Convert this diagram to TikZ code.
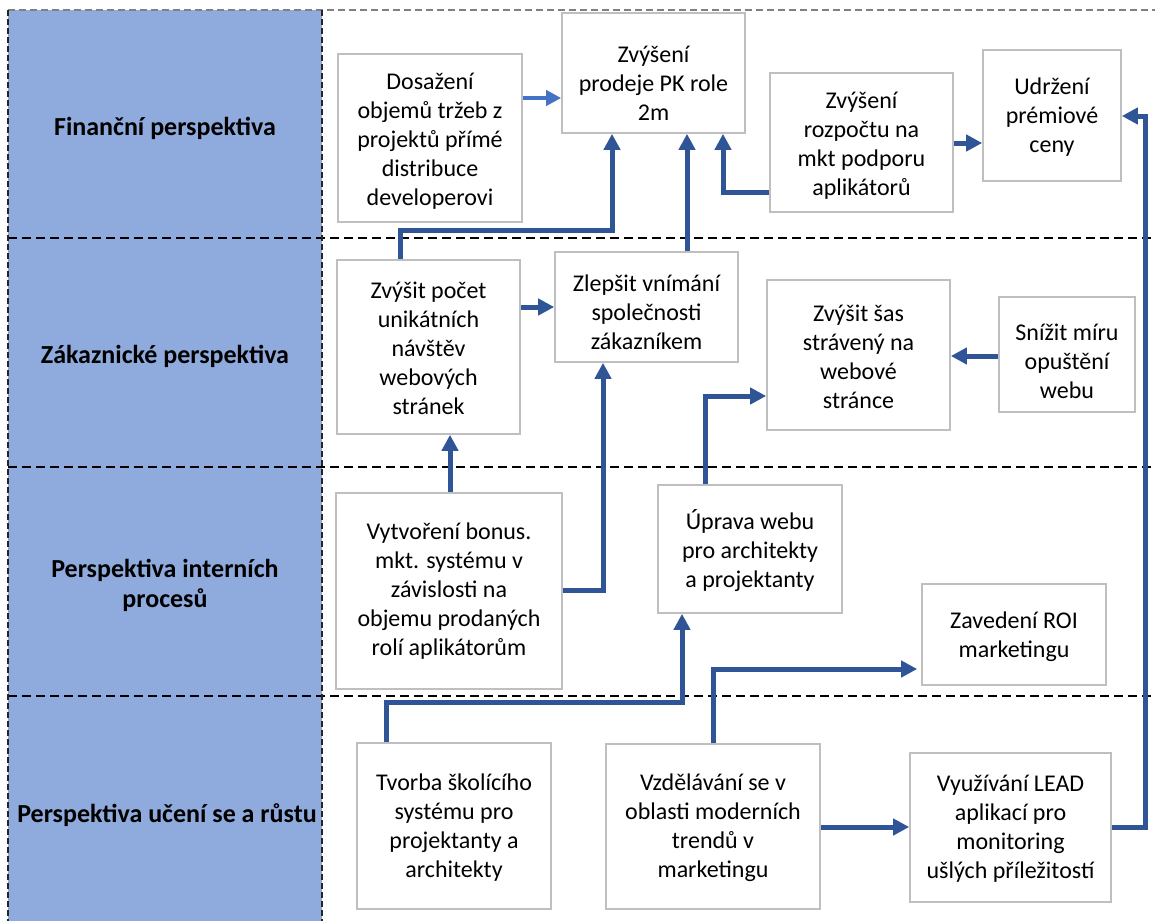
\documentclass[tikz,border=0pt]{standalone}
\usepackage{fontspec}
\setmainfont{Carlito}
\usetikzlibrary{arrows.meta,calc}
\definecolor{colblue}{RGB}{143,170,220}
\definecolor{arrblue}{RGB}{47,85,151}
\definecolor{arrlight}{RGB}{68,114,196}
\definecolor{boxgray}{RGB}{191,191,191}
\tikzset{
  bx/.style={draw=boxgray, line width=1.6pt, fill=white, rectangle, inner sep=0pt},
  txt/.style={align=center, inner sep=0pt, font=\fontsize{24}{29}\selectfont},
  lab/.style={align=center, inner sep=0pt, font=\bfseries\fontsize{26}{30}\selectfont},
  conn/.style={draw=arrblue, line width=5pt, miter limit=10, -{Triangle[length=16pt,width=16pt]}},
  connl/.style={draw=arrlight, line width=4.5pt, -{Triangle[length=15pt,width=15pt]}},
  sep/.style={draw=black, line width=1.8pt, dash pattern=on 9pt off 5pt},
  vsep/.style={draw=black!85, line width=1.4pt, dash pattern=on 6pt off 3pt},
}
\begin{document}
\begin{tikzpicture}[x=1pt,y=-1pt]
\useasboundingbox (0,0) rectangle (1155,921);
% left column
\fill[colblue] (8,10) rectangle (322,921);
\draw[draw=gray, line width=1.2pt, dash pattern=on 7pt off 4pt] (8,10) -- (1155,10);
\draw[sep] (8,238) -- (1155,238);
\draw[sep] (8,467) -- (1155,467);
\draw[sep] (8,696) -- (1155,696);
\draw[vsep] (8,10) -- (8,921);
\draw[vsep] (322,10) -- (322,921);
% row labels
\node[lab] (L1) at (165,128) {Finanční perspektiva};
\node[lab] (L2) at (165,356) {Zákaznické perspektiva};
\node[lab] (L3) at (165,585) {Perspektiva interních\\procesů};
\node[lab] (L4) at (167,815) {Perspektiva učení se a růstu};
% boxes
\node[bx, minimum width=184pt, minimum height=168pt] (A) at (430,138) {};
\node[txt] (At) at (430,141) {Dosažení\\objemů tržeb z\\projektů přímé\\distribuce\\developerovi};
\node[bx, minimum width=183pt, minimum height=120pt] (B) at (653.5,73) {};
\node[txt] (Bt) at (653.5,83) {Zvýšení\\prodeje PK role\\2m};
\node[bx, minimum width=183pt, minimum height=139pt] (C) at (861.5,142.5) {};
\node[txt] (Ct) at (861.5,146) {Zvýšení\\rozpočtu na\\mkt podporu\\aplikátorů};
\node[bx, minimum width=138pt, minimum height=131pt] (D) at (1052,115.5) {};
\node[txt] (Dt) at (1052,117) {Udržení\\prémiové\\ceny};
\node[bx, minimum width=183pt, minimum height=174pt] (E) at (428.5,347) {};
\node[txt] (Et) at (428.5,348) {Zvýšit počet\\unikátních\\návštěv\\webových\\stránek};
\node[bx, minimum width=183pt, minimum height=110pt] (F) at (646.5,307) {};
\node[txt] (Ft) at (646.5,312) {Zlepšit vnímání\\společnosti\\zákazníkem};
\node[bx, minimum width=183pt, minimum height=150pt] (G) at (858.5,355) {};
\node[txt] (Gt) at (858.5,357) {Zvýšit šas\\strávený na\\webové\\stránce};
\node[bx, minimum width=136pt, minimum height=115pt] (H) at (1067,354.5) {};
\node[txt] (Ht) at (1067,361) {Snížit míru\\opuštění\\webu};
\node[bx, minimum width=226pt, minimum height=196pt] (I) at (449,591) {};
\node[txt] (It) at (449,591) {Vytvoření bonus.\\mkt. systému v\\závislosti na\\objemu prodaných\\rolí aplikátorům};
\node[bx, minimum width=184pt, minimum height=128pt] (J) at (750,549) {};
\node[txt] (Jt) at (750,551) {Úprava webu\\pro architekty\\a projektanty};
\node[bx, minimum width=184pt, minimum height=101pt] (K) at (1014,634.5) {};
\node[txt] (Kt) at (1014,637) {Zavedení ROI\\marketingu};
\node[bx, minimum width=194pt, minimum height=166pt] (L) at (454,826) {};
\node[txt] (Lt) at (454,828) {Tvorba školícího\\systému pro\\projektanty a\\architekty};
\node[bx, minimum width=214pt, minimum height=165pt] (M) at (713,826.5) {};
\node[txt] (Mt) at (713,828) {Vzdělávání se v\\oblasti moderních\\trendů v\\marketingu};
\node[bx, minimum width=201pt, minimum height=149pt] (N) at (1010.5,827.5) {};
\node[txt] (Nt) at (1010.5,829) {Využívání LEAD\\aplikací pro\\monitoring\\ušlých příležitostí};
% connectors
\draw[connl] (A.east |- 0,98) -- (B.west |- 0,98);
\draw[conn] (400,0 |- E.north) |- (612,230) -- (612,0 |- B.south);
\draw[conn] (687,0 |- F.north) -- (687,0 |- B.south);
\draw[conn] (C.west |- 0,192) -| (723,0 |- B.south);
\draw[conn] (C.east |- 0,143) -- (D.west |- 0,143);
\draw[conn] (N.east |- 0,827) -| (1145,116) -- (D.east |- 0,116);
\draw[conn] (E.east |- 0,307) -- (F.west |- 0,307);
\draw[conn] (450,0 |- I.north) -- (450,0 |- E.south);
\draw[conn] (I.east |- 0,590) -| (603,0 |- F.south);
\draw[conn] (705,0 |- J.north) |- (G.west |- 0,396);
\draw[conn] (H.west |- 0,356) -- (G.east |- 0,356);
\draw[conn] (386,0 |- L.north) |- (682,702) -- (682,0 |- J.south);
\draw[conn] (713,0 |- M.north) |- ([xshift=-4pt]K.west |- 0,669);
\draw[conn] (M.east |- 0,827) -- (N.west |- 0,827);
\end{tikzpicture}
\end{document}
